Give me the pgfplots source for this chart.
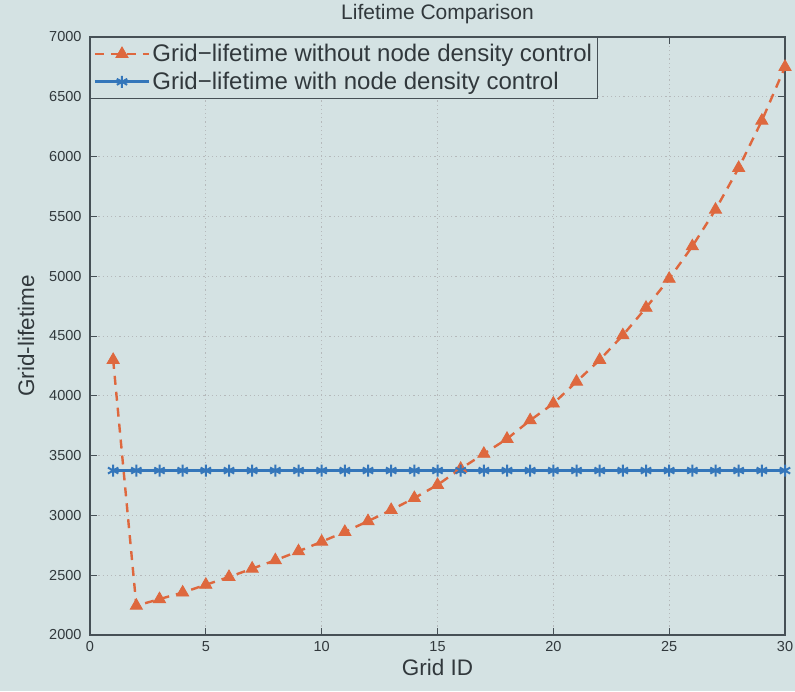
\documentclass[border=0pt]{standalone}
\usepackage{pgfplots}
\pgfplotsset{compat=1.18}
\usepackage{fontspec}
\setmainfont{Liberation Sans}
\definecolor{bg}{RGB}{212,226,227}
\definecolor{morange}{RGB}{222,104,62}
\definecolor{mblue}{RGB}{52,118,186}
\definecolor{axgray}{RGB}{70,80,86}
\begin{document}
\begin{tikzpicture}
\fill[bg] (-90pt,-56pt) rectangle (705pt,635pt);
\begin{axis}[
  at={(0pt,0pt)}, anchor=south west,
  scale only axis, width=695pt, height=598pt,
  xmin=0, xmax=30, ymin=2000, ymax=7000,
  xtick={0,5,...,30}, ytick={2000,2500,...,7000},
  /pgf/number format/assume math mode=true,
  /pgf/number format/set thousands separator={},
  tick label style={font=\fontsize{14.5}{16}\selectfont, text=axgray!70!black},
  xticklabel style={yshift=-3pt},
  yticklabel style={xshift=-5pt},
  major tick length=7pt,
  tick style={axgray, line width=0.8pt},
  axis line style={axgray, line width=1.1pt},
  grid=major,
  major grid style={axgray!40, line width=0.7pt, dash pattern=on 1.2pt off 3pt},
  title={Lifetime Comparison},
  every axis title shift=0pt,
  title style={at={(axis description cs:0.5,1.038)}, anchor=center, font=\fontsize{21}{24}\selectfont, text=axgray!70!black},
  xlabel={Grid ID},
  ylabel={Grid-lifetime},
  xlabel style={at={(axis description cs:0.5,-0.055)}, anchor=center, font=\fontsize{22.5}{26}\selectfont, text=axgray!70!black},
  ylabel style={at={(axis description cs:-0.092,0.5)}, anchor=center, font=\fontsize{22.5}{26}\selectfont, text=axgray!70!black},
  legend style={at={(0,1)}, anchor=north west, draw=axgray, line width=1pt, fill=bg,
    font=\fontsize{24}{27}\selectfont, text=axgray!70!black, inner xsep=3pt, inner ysep=5pt, row sep=5pt},
  legend cell align=left,
  legend image code/.code={%
    \draw[mark repeat=2,mark phase=2,#1] plot coordinates {(0pt,0pt) (27pt,0pt) (54pt,0pt)};},
]
\addplot[morange, line width=2.4pt, dash pattern=on 9pt off 7pt,
  mark=triangle*, mark size=7pt, mark options={solid, fill=morange, draw=morange, line width=0.8pt}]
coordinates {
(1,4300) (2,2245) (3,2300) (4,2355) (5,2420) (6,2485) (7,2555) (8,2625) (9,2700) (10,2780)
(11,2862) (12,2952) (13,3045) (14,3145) (15,3255) (16,3390) (17,3515) (18,3640) (19,3795) (20,3935)
(21,4118) (22,4300) (23,4506) (24,4736) (25,4978) (26,5250) (27,5556) (28,5905) (29,6300) (30,6750)
};
\addlegendentry{Grid−lifetime without node density control}
\addplot[mblue, line width=3pt,
  mark=asterisk, mark size=6pt, mark options={solid, line width=2pt}]
coordinates {
(1,3375) (2,3375) (3,3375) (4,3375) (5,3375) (6,3375) (7,3375) (8,3375) (9,3375) (10,3375)
(11,3375) (12,3375) (13,3375) (14,3375) (15,3375) (16,3375) (17,3375) (18,3375) (19,3375) (20,3375)
(21,3375) (22,3375) (23,3375) (24,3375) (25,3375) (26,3375) (27,3375) (28,3375) (29,3375) (30,3375)
};
\addlegendentry{Grid−lifetime with node density control}
\end{axis}
\pgfresetboundingbox
\useasboundingbox (-90pt,-56pt) rectangle (705pt,635pt);
\end{tikzpicture}
\end{document}
